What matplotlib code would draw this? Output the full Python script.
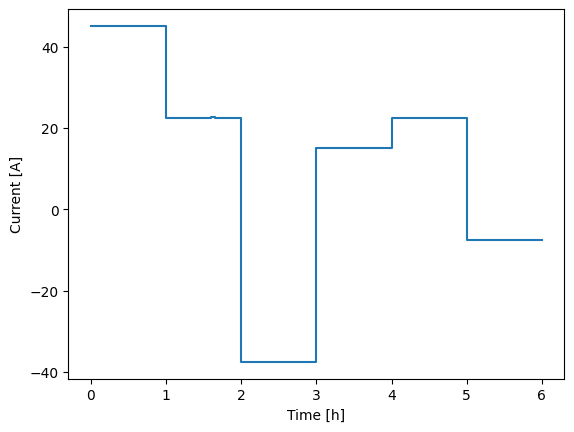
import matplotlib
matplotlib.use('Agg')
import matplotlib.pyplot as plt

# time [h] and current [A] of the measured steps (small wiggles kept)
time_h = [0.0, 0.15, 0.5, 0.999,
          1.0, 1.3, 1.5, 1.6, 1.65, 1.999,
          2.0, 2.15, 2.4, 2.6, 2.999,
          3.0, 3.5, 3.999,
          4.0, 4.5, 4.999,
          5.0, 5.5, 6.0]
current_a = [45.0, 45.1, 45.05, 45.0,
             22.5, 22.45, 22.55, 22.6, 22.5, 22.5,
             -37.5, -37.45, -37.55, -37.5, -37.5,
             15.0, 15.0, 15.0,
             22.5, 22.45, 22.5,
             -7.5, -7.5, -7.5]

fig, ax = plt.subplots(figsize=(6.4, 4.8), dpi=100)
ax.step(time_h, current_a, where='post', color='#1f77b4', linewidth=1.5)
ax.set_xlabel('Time [h]')
ax.set_ylabel('Current [A]')
fig.savefig('out.png', dpi=100, bbox_inches='tight')
